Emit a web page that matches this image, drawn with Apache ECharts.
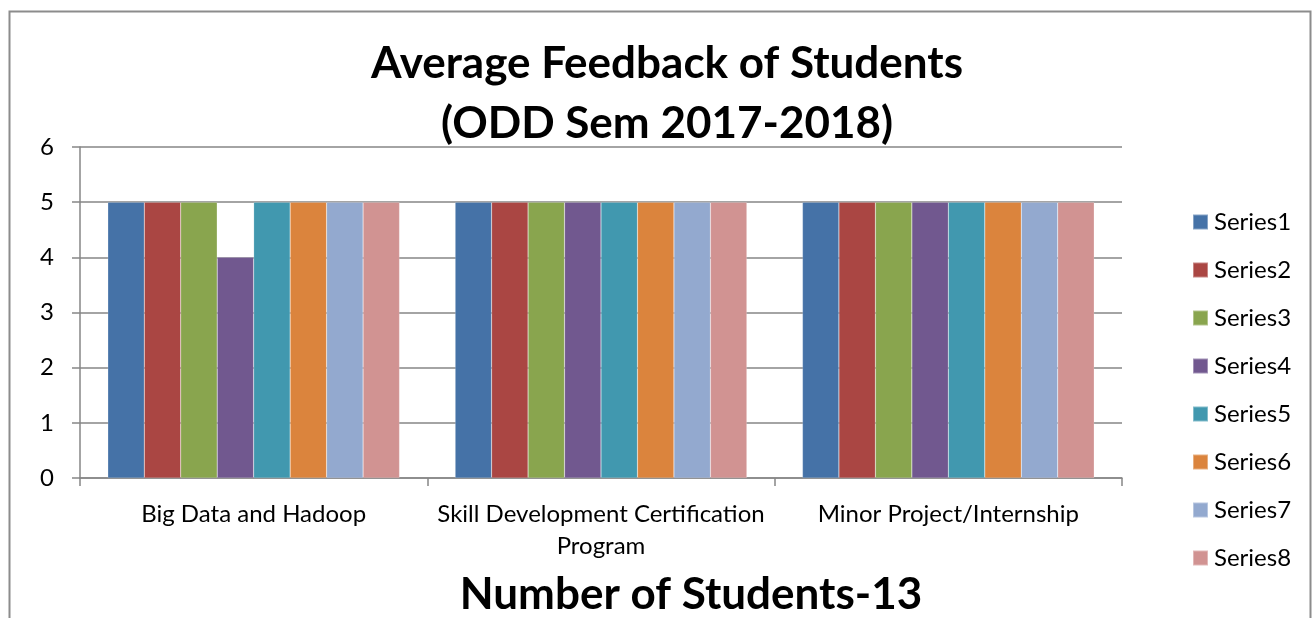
<!DOCTYPE html>
<html><head><meta charset="utf-8">
<script src="https://cdn.jsdelivr.net/npm/echarts@6/dist/echarts.min.js"></script>
<style>html,body{margin:0;padding:0;background:#fff}#c{width:1313px;height:618px}</style>
</head><body><div id="c"></div>
<script>
const categories = ["Big Data and Hadoop", "Skill Development Certification\nProgram", "Minor Project/Internship"];
const seriesNames = ["Series1","Series2","Series3","Series4","Series5","Series6","Series7","Series8"];
const series1 = [5,5,5];
const series2 = [5,5,5];
const series3 = [5,5,5];
const series4 = [4,5,5];
const series5 = [5,5,5];
const series6 = [5,5,5];
const series7 = [5,5,5];
const series8 = [5,5,5];
const yTicks = [0,1,2,3,4,5,6];
const colors = ["#4572A7","#AA4643","#89A54E","#71588F","#4198AF","#DB843D","#93A9CF","#D19392"];
const allData = [series1,series2,series3,series4,series5,series6,series7,series8];

const chart = echarts.init(document.getElementById('c'), null, {renderer:'canvas'});
const font = 'Lato, "Open Sans", sans-serif';
chart.setOption({
  animation:false,
  color: colors,
  textStyle:{fontFamily:font},
  title:[
    {text:"Average Feedback of Students\n(ODD Sem 2017-2018)", left:662, top:29, textAlign:'center',
     textStyle:{fontFamily:font, fontWeight:'bold', fontSize:44, lineHeight:60, color:'#000'}},
    {text:"Number of Students-13", left:686, top:568, textAlign:'center',
     textStyle:{fontFamily:font, fontWeight:'bold', fontSize:44, color:'#000'}}
  ],
  graphic:[{type:'rect', shape:{x:9.5,y:11.5,width:1301,height:700}, style:{fill:'none', stroke:'#8c8c8c', lineWidth:2}, silent:true}],
  legend:{orient:'vertical', left:1187, top:205, itemWidth:15, itemHeight:15, itemGap:24,
    icon:'rect', textStyle:{fontFamily:font, fontSize:24, color:'#000', padding:[0,0,0,1]},
    data: seriesNames},
  grid:{left:80, right:191, top:147, bottom:140, containLabel:false},
  xAxis:{type:'category', data:categories,
    axisLine:{lineStyle:{color:'#868686', width:1.5}},
    axisTick:{show:true, length:8, lineStyle:{color:'#868686', width:1.5}},
    axisLabel:{fontFamily:font, fontSize:24, color:'#000', margin:20, lineHeight:32, interval:0}},
  yAxis:{type:'value', min:yTicks[0], max:yTicks[yTicks.length-1], interval:1,
    axisLine:{show:true, lineStyle:{color:'#868686', width:1.5}},
    axisTick:{show:true, length:8, lineStyle:{color:'#868686', width:1.5}},
    splitLine:{lineStyle:{color:'#868686', width:1.5}},
    axisLabel:{fontFamily:font, fontSize:24, color:'#000', margin:26}},
  series: seriesNames.map((n,i)=>({name:n, type:'bar', data:allData[i], barGap:'0%', barCategoryGap:'16%',
    itemStyle:{color:colors[i], borderColor:'rgba(255,255,255,0.35)', borderWidth:0.5}}))
});
</script></body></html>
